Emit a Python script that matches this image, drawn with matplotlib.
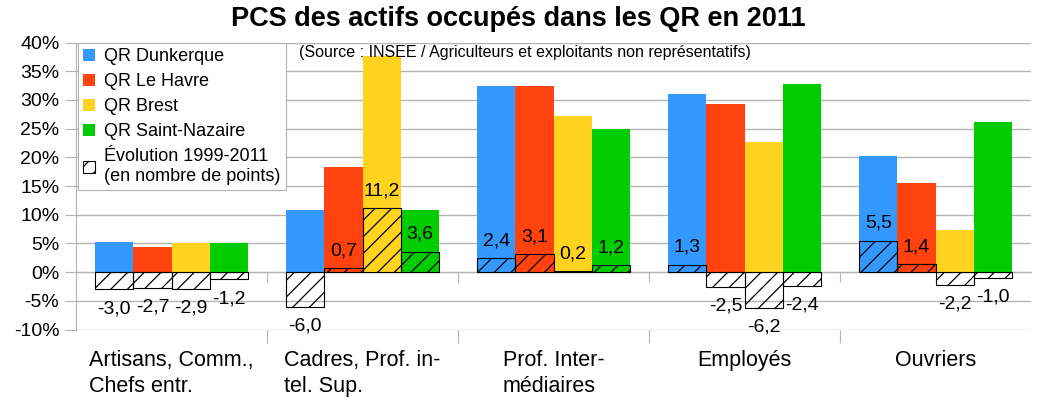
import numpy as np
import matplotlib
matplotlib.use('Agg')
import matplotlib.pyplot as plt
import matplotlib.ticker as tick
from matplotlib.patches import Patch

plt.rcParams.update({'font.family': ['Liberation Sans', 'DejaVu Sans'],
                     'font.size': 13,
                     'hatch.linewidth': 0.9,
                     'axes.linewidth': 0.8})

categories = ['Artisans, Comm.,\nChefs entr.', 'Cadres, Prof. in-\ntel. Sup.',
              'Prof. Inter-\nmédiaires', 'Employés', 'Ouvriers']
series = ['QR Dunkerque', 'QR Le Havre', 'QR Brest', 'QR Saint-Nazaire']
colors = ['#3399ff', '#ff420e', '#ffd320', '#00cc00']

# part des actifs occupés en 2011 (%)
dunkerque = [5.2, 10.8, 32.4, 31.0, 20.2]
le_havre = [4.4, 18.3, 32.4, 29.3, 15.5]
brest = [5.0, 37.6, 27.2, 22.6, 7.3]
saint_nazaire = [5.1, 10.8, 24.9, 32.8, 26.1]

# évolution 1999-2011 (points)
evo_dunkerque = [-3.0, -6.0, 2.4, 1.3, 5.5]
evo_le_havre = [-2.7, 0.7, 3.1, -2.5, 1.4]
evo_brest = [-2.9, 11.2, 0.2, -6.2, -2.2]
evo_saint_nazaire = [-1.2, 3.6, 1.2, -2.4, -1.0]

values = [dunkerque, le_havre, brest, saint_nazaire]
evolutions = [evo_dunkerque, evo_le_havre, evo_brest, evo_saint_nazaire]

fig = plt.figure(figsize=(10.37, 4.01), dpi=100)
ax = fig.add_axes([0.0733, 0.178, 0.921, 0.716])

x = np.arange(len(categories))
w = 0.2
grid_col = '#b3b3b3'

for j in range(4):
    pos = x + (j - 1.5) * w
    ax.bar(pos, values[j], width=w, color=colors[j], zorder=2)
    bars = ax.bar(pos, evolutions[j], width=w, facecolor='none', edgecolor='black',
                  hatch='//', linewidth=0.8, zorder=3)
    for b, v in zip(bars, evolutions[j]):
        txt = f"{v:.1f}".replace('.', ',')
        if v >= 0:
            ax.annotate(txt, (b.get_x() + b.get_width() / 2, v), xytext=(0, 12.5),
                        textcoords='offset points', ha='center', va='center',
                        fontsize=14, zorder=4)
        else:
            ax.annotate(txt, (b.get_x() + b.get_width() / 2, v), xytext=(0, -14),
                        textcoords='offset points', ha='center', va='center',
                        fontsize=14, zorder=4)

ax.set_xlim(-0.5, len(categories) - 0.5)
ax.set_ylim(-10, 40)
ax.set_yticks(np.arange(-10, 41, 5))
ax.get_yaxis().set_major_formatter(tick.FuncFormatter(lambda v, p: f"{int(v)}%"))
ax.yaxis.grid(True, color=grid_col, linewidth=1.0, zorder=0)
ax.set_axisbelow(True)

ax.set_xticks(np.arange(0.5, len(categories) - 0.5, 1))
ax.set_xticklabels([])
ax.set_xticks(x, minor=True)
ax.set_xticklabels(categories, minor=True, multialignment='left', linespacing=1.3)
ax.tick_params(axis='x', which='minor', length=0, pad=14.5, labelsize=15.5)
ax.tick_params(axis='x', which='major', length=9, color=grid_col, direction='out')
ax.tick_params(axis='y', length=8, color=grid_col, pad=4, labelsize=14)

for s in ['top', 'right', 'bottom']:
    ax.spines[s].set_visible(False)
ax.spines['left'].set_color(grid_col)

# axe des x à 0 %
zero_ax = ax.secondary_xaxis(0.2)
zero_ax.set_xticks(np.arange(0.5, len(categories) - 0.5, 1))
zero_ax.set_xticklabels([])
zero_ax.tick_params(length=7, color=grid_col, direction='out')
zero_ax.spines['bottom'].set_color(grid_col)

handles = [Patch(facecolor=c, edgecolor='none') for c in colors]
handles.append(Patch(facecolor='white', edgecolor='black', hatch='//', linewidth=0.8))
labels = series + ['Évolution 1999-2011\n(en nombre de points)']
leg = ax.legend(handles, labels, loc='upper left', bbox_to_anchor=(0.002, 1.0),
                borderaxespad=0, fontsize=13, handlelength=0.65, handleheight=0.65,
                handletextpad=0.5, labelspacing=0.45, fancybox=False,
                edgecolor=grid_col, framealpha=1, borderpad=0.3)
leg.get_frame().set_linewidth(0.8)
leg.set_zorder(5)

ax.text(0.233, 0.965, '(Source : INSEE / Agriculteurs et exploitants non représentatifs)',
        transform=ax.transAxes, fontsize=11.5, va='center', ha='left', zorder=6)

fig.suptitle('PCS des actifs occupés dans les QR en 2011', fontsize=19.5,
             fontweight='bold', y=0.985, va='top', x=0.5)

fig.savefig('out.png', dpi=100)
